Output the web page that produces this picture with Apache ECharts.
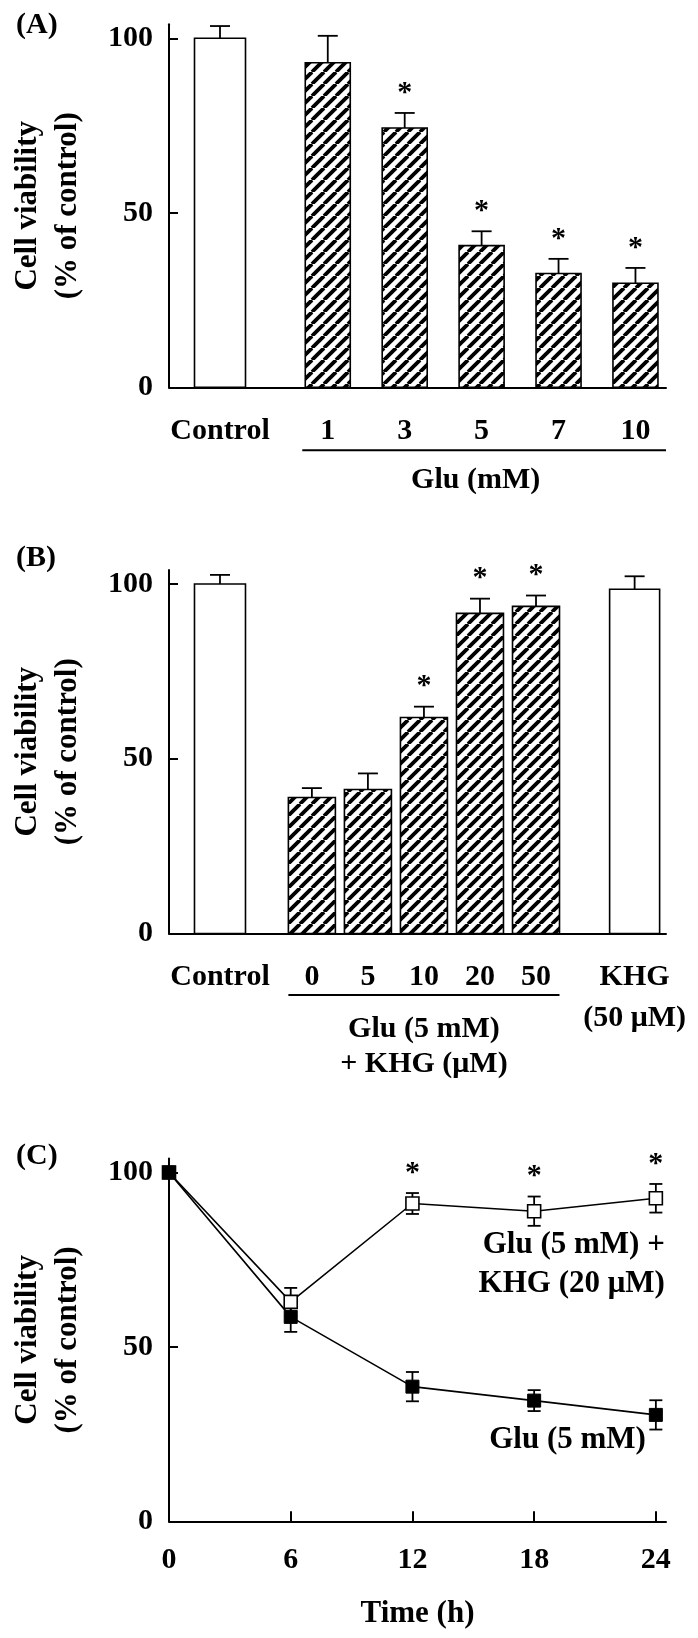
<!DOCTYPE html>
<html><head><meta charset="utf-8">
<script src="https://cdn.jsdelivr.net/npm/echarts@6/dist/echarts.min.js"></script>
<style>html,body{margin:0;padding:0;background:#fff}#c{width:698px;height:1638px}</style>
</head><body><div id="c"></div>
<script>
// ---------- data ----------
const catsA = ['Control', '1', '3', '5', '7', '10'];
const meanA = [100, 93.0, 74.3, 40.6, 32.6, 29.8];
const errA = [3.5, 7.7, 4.3, 4.1, 4.2, 4.4];
const sigA = [false, false, true, true, true, true];

const catsB = ['Control', '0', '5', '10', '20', '50', 'KHG\n(50 μM)'];
const meanB = [100, 38.9, 41.2, 61.8, 91.6, 93.6, 98.5];
const errB = [2.6, 2.7, 4.6, 3.1, 4.2, 3.1, 3.7];
const sigB = [false, false, false, true, true, true, false];

const timeC = [0, 6, 12, 18, 24];
const gluC = [100, 58.6, 38.6, 34.6, 30.5];
const gluErrC = [0, 4.3, 4.2, 3.0, 4.2];
const khgC = [100, 62.9, 91.1, 88.9, 92.6];
const khgErrC = [0, 4.0, 3.0, 4.2, 4.1];
const sigC = [false, false, true, true, true];

const yTicks = [0, 50, 100];

// ---------- layout / style ----------
const FONT = "'Liberation Serif','Times New Roman',serif";
const posA = [0.663, 2.064, 3.064, 4.064, 5.064, 6.064];
const widthA = [51, 45, 45, 45, 45, 45];
const hatchA = [false, true, true, true, true, true];
const posB = [0.91, 2.55, 3.55, 4.55, 5.55, 6.55, 8.31];
const widthB = [51, 47, 47, 47, 47, 47, 50];
const hatchB = [false, true, true, true, true, true, false];

function makeHatch() {
  const s = 12, c = document.createElement('canvas');
  c.width = s; c.height = s;
  const g = c.getContext('2d');
  g.fillStyle = '#fff'; g.fillRect(0, 0, s, s);
  g.strokeStyle = '#000'; g.lineWidth = 3.8;
  for (const k of [-s, 0, s]) { g.beginPath(); g.moveTo(k, s); g.lineTo(k + s, 0); g.stroke(); }
  return c;
}
const hatch = { image: makeHatch(), repeat: 'repeat' };

function barRender(widths, hatched, sig) {
  return function (params, api) {
    const i = params.dataIndex;
    const x = api.value(0), v = api.value(1), e = api.value(2);
    const base = api.coord([x, 0]);
    const top = api.coord([x, v]);
    const et = api.coord([x, v + e]);
    const w = widths[i];
    const ch = [
      { type: 'line', shape: { x1: base[0], y1: top[1], x2: base[0], y2: et[1] }, style: { stroke: '#000', lineWidth: 1.8 } },
      { type: 'line', shape: { x1: base[0] - 10, y1: et[1], x2: base[0] + 10, y2: et[1] }, style: { stroke: '#000', lineWidth: 1.8 } },
      { type: 'rect', shape: { x: base[0] - w / 2, y: top[1], width: w, height: base[1] - top[1] },
        style: { fill: hatched[i] ? hatch : '#fff', stroke: '#000', lineWidth: 1.6 } }
    ];
    if (sig[i]) ch.push({ type: 'text', style: { text: '*', x: base[0], y: et[1] - 20, align: 'center', verticalAlign: 'middle', font: `bold 30px ${FONT}`, fill: '#000' } });
    return { type: 'group', children: ch };
  };
}

function errRender(sig) {
  return function (params, api) {
    const t = api.value(0), v = api.value(1), e = api.value(2);
    const ch = [];
    if (e > 0) {
      const hi = api.coord([t, v + e]), lo = api.coord([t, v - e]);
      ch.push({ type: 'line', shape: { x1: hi[0], y1: hi[1], x2: lo[0], y2: lo[1] }, style: { stroke: '#000', lineWidth: 1.8 } });
      ch.push({ type: 'line', shape: { x1: hi[0] - 6.5, y1: hi[1], x2: hi[0] + 6.5, y2: hi[1] }, style: { stroke: '#000', lineWidth: 1.8 } });
      ch.push({ type: 'line', shape: { x1: lo[0] - 6.5, y1: lo[1], x2: lo[0] + 6.5, y2: lo[1] }, style: { stroke: '#000', lineWidth: 1.8 } });
      if (sig && sig[params.dataIndex]) ch.push({ type: 'text', style: { text: '*', x: hi[0], y: hi[1] - 20, align: 'center', verticalAlign: 'middle', font: `bold 30px ${FONT}`, fill: '#000' } });
    }
    return { type: 'group', children: ch };
  };
}

const lab = { fontFamily: FONT, fontWeight: 'bold', fontSize: 30, color: '#000' };
const lab31 = { fontFamily: FONT, fontWeight: 'bold', fontSize: 31, color: '#000' };
const axisLine = { show: true, onZero: false, lineStyle: { color: '#000', width: 2 } };

function yAx(gi) {
  return {
    type: 'value', gridIndex: gi, min: 0, max: 104,
    axisLine, splitLine: { show: false },
    axisTick: { show: true, inside: true, length: 9, lineStyle: { color: '#000', width: 2 }, customValues: yTicks },
    axisLabel: Object.assign({ margin: 16, customValues: yTicks }, lab),
    name: 'Cell viability\n(% of control)', nameLocation: 'middle', nameRotate: 90, nameGap: 81,
    nameTextStyle: Object.assign({ lineHeight: 40 }, lab31)
  };
}

const option = {
  animation: false,
  backgroundColor: '#fff',
  grid: [
    { left: 159.5, width: 506.5, top: 24.3, height: 363 },
    { left: 159.5, width: 506.5, top: 570, height: 363.5 },
    { left: 159.5, width: 506.5, top: 1158.5, height: 362.8 }
  ],
  xAxis: [
    { type: 'value', gridIndex: 0, min: 0, max: 6.461, axisLine, splitLine: { show: false }, axisTick: { show: false },
      axisLabel: Object.assign({ margin: 23, lineHeight: 41, customValues: posA, formatter: v => { const i = posA.indexOf(v); return i < 0 ? '' : catsA[i]; } }, lab) },
    { type: 'value', gridIndex: 1, min: 0, max: 8.87, axisLine, splitLine: { show: false }, axisTick: { show: false },
      axisLabel: Object.assign({ margin: 23, lineHeight: 41, customValues: posB, formatter: v => { const i = posB.indexOf(v); return i < 0 ? '' : catsB[i]; } }, lab) },
    { type: 'value', gridIndex: 2, min: 0, max: 24.5, axisLine, splitLine: { show: false },
      axisTick: { show: true, inside: true, length: 10, lineStyle: { color: '#000', width: 2 }, customValues: timeC },
      axisLabel: Object.assign({ margin: 24, customValues: timeC }, lab),
      name: 'Time (h)', nameLocation: 'middle', nameGap: 77, nameTextStyle: lab31 }
  ],
  yAxis: [yAx(0), yAx(1), yAx(2)],
  series: [
    { type: 'custom', xAxisIndex: 0, yAxisIndex: 0, renderItem: barRender(widthA, hatchA, sigA),
      data: posA.map((p, i) => [p, meanA[i], errA[i]]) },
    { type: 'custom', xAxisIndex: 1, yAxisIndex: 1, renderItem: barRender(widthB, hatchB, sigB),
      data: posB.map((p, i) => [p, meanB[i], errB[i]]) },
    { type: 'custom', xAxisIndex: 2, yAxisIndex: 2, renderItem: errRender(sigC), z: 1,
      data: timeC.map((t, i) => [t, khgC[i], khgErrC[i]]) },
    { type: 'custom', xAxisIndex: 2, yAxisIndex: 2, renderItem: errRender(null), z: 1,
      data: timeC.map((t, i) => [t, gluC[i], gluErrC[i]]) },
    { type: 'line', xAxisIndex: 2, yAxisIndex: 2, z: 3, symbol: 'rect', symbolSize: 13,
      lineStyle: { color: '#000', width: 1.6 }, itemStyle: { color: '#fff', borderColor: '#000', borderWidth: 1.6 },
      data: timeC.map((t, i) => [t, khgC[i]]) },
    { type: 'line', xAxisIndex: 2, yAxisIndex: 2, z: 4, symbol: 'rect', symbolSize: 13,
      lineStyle: { color: '#000', width: 1.6 }, itemStyle: { color: '#000', borderColor: '#000', borderWidth: 1 },
      data: timeC.map((t, i) => [t, gluC[i]]) }
  ]
};

const chart = echarts.init(document.getElementById('c'), null, { renderer: 'canvas' });
chart.setOption(option);

// ---------- annotations anchored through the axes ----------
const P = (g, x, y) => chart.convertToPixel({ gridIndex: g }, [x, y]);
const txt = (x, y, text, align, size) => ({ type: 'text', x, y, style: { text, font: `bold ${size || 30}px ${FONT}`, fill: '#000', align: align || 'center', verticalAlign: 'middle' } });
const ln = (x1, y1, x2, y2) => ({ type: 'line', shape: { x1, y1, x2, y2 }, style: { stroke: '#000', lineWidth: 2 } });

const a0 = P(0, 0, 0), aEnd = P(0, 6.461, 0), a1 = P(0, posA[1], 0), aL = P(0, posA[5], 0);
const b0 = P(1, 0, 0), b1 = P(1, posB[1], 0), b5 = P(1, posB[5], 0);
const c24k = P(2, 24, khgC[4]), c24g = P(2, 24, gluC[4]), c100 = P(2, 0, 100), a100 = P(0, 0, 100), bb100 = P(1, 0, 100);

const uAl = a1[0] - widthA[1] / 2 - 3, uAr = aEnd[0];
const uBl = b1[0] - widthB[1] / 2, uBr = b5[0] + widthB[5] / 2;
chart.setOption({
  graphic: [
    txt(16, a100[1] - 13, '(A)', 'left'),
    txt(16, bb100[1] - 26, '(B)', 'left'),
    txt(16, c100[1] - 16, '(C)', 'left'),
    ln(uAl, a0[1] + 63, uAr, a0[1] + 63),
    txt((a1[0] + aL[0]) / 2 - 6, a0[1] + 93, 'Glu (mM)'),
    ln(uBl, b0[1] + 61.5, uBr, b0[1] + 61.5),
    txt((uBl + uBr) / 2, b0[1] + 95.5, 'Glu (5 mM)'),
    txt((uBl + uBr) / 2, b0[1] + 131, '+ KHG (μM)'),
    txt(c24k[0] + 9, c24k[1] + 47, 'Glu (5 mM) +', 'right', 31),
    txt(c24k[0] + 9, c24k[1] + 86, 'KHG (20 μM)', 'right', 31),
    txt(c24g[0] - 10, c24g[1] + 25, 'Glu (5 mM)', 'right', 31)
  ]
});
</script></body></html>
